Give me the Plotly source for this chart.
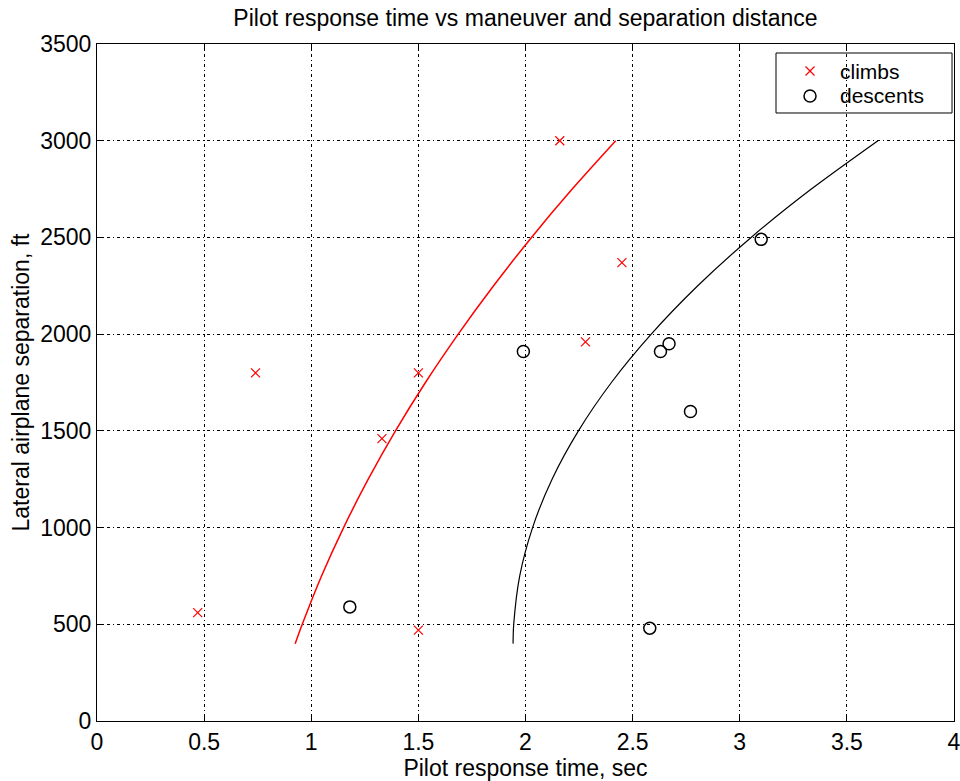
import plotly.graph_objects as go

# Measured pilot response times (sec) and lateral airplane separations (ft)
climb_time = [0.47, 0.74, 1.33, 1.50, 1.50, 2.16, 2.28, 2.45]
climb_sep = [560, 1800, 1460, 1800, 470, 3000, 1960, 2370]

descent_time = [1.18, 1.99, 2.58, 2.63, 2.67, 2.77, 3.10]
descent_sep = [590, 1910, 480, 1910, 1950, 1600, 2490]

# Fitted trend curves (response time, separation)
climb_fit_time = [0.925, 0.958, 1.048, 1.151, 1.266, 1.393, 1.533, 1.686, 1.851, 2.028, 2.218, 2.421]
climb_fit_sep = [400, 500, 750, 1000, 1250, 1500, 1750, 2000, 2250, 2500, 2750, 3000]

descent_fit_time = [1.942, 1.945, 1.973, 2.033, 2.124, 2.247, 2.401, 2.587, 2.804, 3.053, 3.334, 3.645]
descent_fit_sep = [400, 500, 750, 1000, 1250, 1500, 1750, 2000, 2250, 2500, 2750, 3000]

x_ticks = [0, 0.5, 1, 1.5, 2, 2.5, 3, 3.5, 4]
x_tick_text = ["0", "0.5", "1", "1.5", "2", "2.5", "3", "3.5", "4"]
y_ticks = [0, 500, 1000, 1500, 2000, 2500, 3000, 3500]

series_names = ["climbs", "descents"]

FONT = "Liberation Sans, Arial, Helvetica, sans-serif"
FS = 23
LEG_FS = 21
RED = "#ff0000"

fig = go.Figure()

fig.add_trace(go.Scatter(
    x=climb_fit_time, y=climb_fit_sep, mode="lines",
    line=dict(color=RED, width=1.5, shape="spline", smoothing=0.8),
    showlegend=False, hoverinfo="skip"))
fig.add_trace(go.Scatter(
    x=descent_fit_time, y=descent_fit_sep, mode="lines",
    line=dict(color="#000000", width=1.2, shape="spline", smoothing=0.8),
    showlegend=False, hoverinfo="skip"))

climb_marker = dict(symbol="x-thin", size=9, color=RED, line=dict(color=RED, width=1.2))
descent_marker = dict(symbol="circle-open", size=12, color="#000000",
                      line=dict(color="#000000", width=1.5))

fig.add_trace(go.Scatter(
    x=climb_time, y=climb_sep, mode="markers", name=series_names[0],
    marker=climb_marker, showlegend=False))
fig.add_trace(go.Scatter(
    x=descent_time, y=descent_sep, mode="markers", name=series_names[1],
    marker=descent_marker, showlegend=False))

# Legend box in the upper-right corner of the axes
leg_x0, leg_x1, leg_y0, leg_y1 = 0.7923, 0.9977, 0.8981, 0.9867
sym_x, text_x = 0.832, 0.8658
row_y = [0.9601, 0.9232]

fig.add_shape(type="rect", xref="x domain", yref="y domain",
              x0=leg_x0, x1=leg_x1, y0=leg_y0, y1=leg_y1,
              line=dict(color="black", width=1), fillcolor="white", layer="below")

# legend symbols on an overlay axis spanning the same area as the plot
fig.add_trace(go.Scatter(x=[sym_x], y=[row_y[0]], mode="markers", marker=climb_marker,
                         xaxis="x2", yaxis="y2", showlegend=False, hoverinfo="skip"))
fig.add_trace(go.Scatter(x=[sym_x], y=[row_y[1]], mode="markers", marker=descent_marker,
                         xaxis="x2", yaxis="y2", showlegend=False, hoverinfo="skip"))
for name, ry in zip(series_names, row_y):
    fig.add_annotation(text=name, xref="x domain", yref="y domain", x=text_x, y=ry,
                       xanchor="left", yanchor="middle", showarrow=False,
                       borderpad=0,
                       font=dict(family=FONT, size=LEG_FS, color="black"))

grid_dash = "3px,3px,1px,3px"

common_axis = dict(
    showline=True, linecolor="black", linewidth=1, mirror="ticks",
    ticks="inside", ticklen=6, tickcolor="black",
    showgrid=True, gridcolor="black", gridwidth=1, griddash=grid_dash,
    zeroline=False, ticklabeloverflow="allow", automargin=False,
    tickfont=dict(family=FONT, size=FS, color="black"),
)

fig.update_layout(
    width=960, height=781,
    margin=dict(l=97, r=6, t=44, b=60),
    paper_bgcolor="white", plot_bgcolor="white",
    xaxis=dict(range=[0, 4], tickvals=x_ticks, ticktext=x_tick_text,
               title=dict(text="Pilot response time, sec",
                          font=dict(family=FONT, size=FS, color="black"), standoff=0),
               **common_axis),
    yaxis=dict(range=[0, 3500], tickvals=y_ticks,
               title=dict(text="Lateral airplane separation, ft",
                          font=dict(family=FONT, size=FS, color="black"), standoff=4),
               **common_axis),
    xaxis2=dict(overlaying="x", range=[0, 1], visible=False, anchor="y2"),
    yaxis2=dict(overlaying="y", range=[0, 1], visible=False, anchor="x2"),
    title=dict(text="Pilot response time vs maneuver and separation distance",
               x=(97 + 954) / 2 / 960, xanchor="center", y=1 - 18 / 781, yanchor="middle",
               font=dict(family=FONT, size=FS, color="black")),
    showlegend=False,
)

fig.write_html("out.html")
